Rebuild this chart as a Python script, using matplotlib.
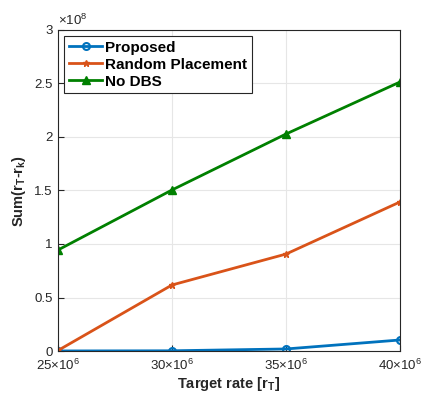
import matplotlib.pyplot as plt

plt.rcParams['font.family'] = ['Liberation Sans', 'DejaVu Sans']
plt.rcParams['mathtext.fontset'] = 'custom'
plt.rcParams['mathtext.rm'] = 'Liberation Sans'
plt.rcParams['mathtext.bf'] = 'Liberation Sans:bold'

rate = [25e6, 30e6, 35e6, 40e6]
proposed = [0.0005e8, 0.002e8, 0.019e8, 0.103e8]
random_place = [0.005e8, 0.617e8, 0.906e8, 1.393e8]
no_dbs = [0.944e8, 1.505e8, 2.028e8, 2.514e8]
xtick_labels = ['25', '30', '35', '40']

fig = plt.figure(figsize=(4.43, 3.94), dpi=100)
ax = fig.add_axes([58/443, 1-351/394, 342/443, 321/394])

ax.plot(rate, proposed, color='#0072BD', lw=2, marker='o', ms=5, mfc='none', mew=1.5, label='Proposed')
ax.plot(rate, random_place, color='#D95319', lw=2, marker='*', ms=5, label='Random Placement')
ax.plot(rate, no_dbs, color='#008000', lw=2, marker='^', ms=6, label='No DBS')

ax.set_xlim(25e6, 40e6)
ax.set_ylim(0, 3e8)
ax.set_xticks(rate)
ax.set_xticklabels([s + r'$\times\mathregular{10}^{6}$' for s in xtick_labels])
ax.set_yticks([0, 0.5e8, 1e8, 1.5e8, 2e8, 2.5e8, 3e8])
ax.set_yticklabels(['0', '0.5', '1', '1.5', '2', '2.5', '3'])
ax.text(0.0, 1.005, r'$\times\mathregular{10}^{8}$', transform=ax.transAxes, fontsize=9.5, color='#262626', va='bottom', ha='left')

ax.grid(True, color='#e6e6e6', lw=0.8)
ax.tick_params(direction='in', labelsize=9.5, colors='#262626', length=4)
ax.tick_params(axis='x', pad=5)
ax.tick_params(axis='y', pad=4)
for s in ax.spines.values():
    s.set_color('#262626')
    s.set_linewidth(0.8)

ax.set_xlabel(r'Target rate [r$_\mathbf{T}$]', fontsize=10.5, fontweight='bold', color='#262626', labelpad=1)
ax.set_ylabel(r'Sum(r$_\mathbf{T}$-r$_\mathbf{k}$)', fontsize=10.5, fontweight='bold', color='#262626', labelpad=4)

leg = ax.legend(loc='upper left', prop={'weight': 'bold', 'size': 11}, fancybox=False,
                edgecolor='#262626', framealpha=1, handlelength=2.2, handletextpad=0.2,
                borderpad=0.3, labelspacing=0.2, borderaxespad=0.4)
leg.get_frame().set_linewidth(0.8)

fig.savefig('out.png', dpi=100)
